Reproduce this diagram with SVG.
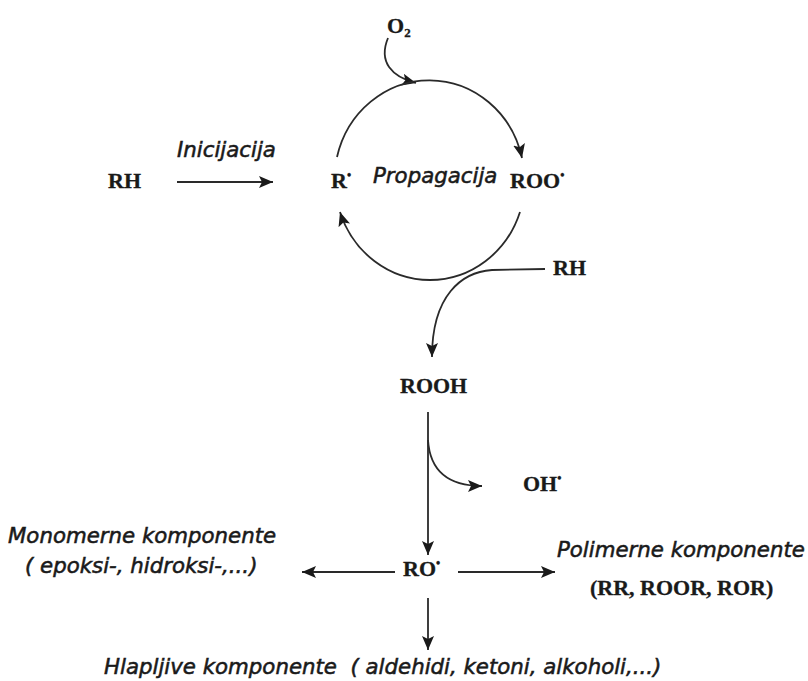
<svg xmlns="http://www.w3.org/2000/svg" width="808" height="681" viewBox="0 0 808 681">
<defs>
<marker id="ah" markerUnits="userSpaceOnUse" markerWidth="16" markerHeight="12" refX="14" refY="6" orient="auto">
<path d="M0,0 L14,6 L0,12 L3,6 z" fill="#1a1a1a"/>
</marker>
<style>
.chem{font-family:"Liberation Serif","Times New Roman",serif;font-weight:bold;font-size:22px;fill:#1a1a1a;stroke:#1a1a1a;stroke-width:0.3}
.lab{font-family:"DejaVu Sans","Verdana",sans-serif;font-style:italic;font-size:21.3px;fill:#1a1a1a;stroke:#1a1a1a;stroke-width:0.55}
.ar{fill:none;stroke:#2a2a2a;stroke-width:1.8;marker-end:url(#ah)}
.rad{font-size:12px}
</style>
</defs>
<rect width="808" height="681" fill="#ffffff"/>
<g id="connectors">
<path class="ar" d="M388 38 C378 62, 392 77, 416 83"/>
<path class="ar" d="M337 157 A95 100 0 0 1 522 158"/>
<path class="ar" d="M520 212 A95 100 0 0 1 340 212"/>
<path class="ar" d="M177 182 L273 182"/>
<path class="ar" d="M545 269 L492 270 C462 272, 432 295, 432 357"/>
<path class="ar" d="M428 412 L428 555"/>
<path class="ar" d="M428 440 C430 472, 450 486, 482 486"/>
<path class="ar" d="M395 572 L302 572"/>
<path class="ar" d="M458 572 L555 572"/>
<path class="ar" d="M428 598 L428 650"/>
</g>
<g id="o2"><text class="chem" x="387" y="33">O<tspan font-size="13" dy="4">2</tspan></text></g>
<g id="rh-start"><text class="chem" x="108" y="188">RH</text></g>
<g id="inicijacija"><text class="lab" x="177" y="157">Inicijacija</text></g>
<g id="r-radical"><text class="chem" x="331" y="188">R<tspan class="rad" dy="-9">•</tspan></text></g>
<g id="propagacija"><text class="lab" x="373" y="183">Propagacija</text></g>
<g id="roo-radical"><text class="chem" x="510" y="188">ROO<tspan class="rad" dy="-9">•</tspan></text></g>
<g id="rh-right"><text class="chem" x="553" y="275">RH</text></g>
<g id="rooh"><text class="chem" x="400" y="393">ROOH</text></g>
<g id="oh-radical"><text class="chem" x="523" y="491">OH<tspan class="rad" dy="-9">•</tspan></text></g>
<g id="ro-radical"><text class="chem" x="403" y="576">RO<tspan class="rad" dy="-9">•</tspan></text></g>
<g id="monomerne">
<text class="lab" x="8" y="543">Monomerne komponente</text>
<text class="lab" x="25" y="573">( epoksi-, hidroksi-,...)</text>
</g>
<g id="polimerne">
<text class="lab" x="557" y="557">Polimerne komponente</text>
<text class="chem" x="590" y="595">(RR, ROOR, ROR)</text>
</g>
<g id="hlapljive"><text class="lab" x="104" y="674" xml:space="preserve">Hlapljive komponente  ( aldehidi, ketoni, alkoholi,...)</text></g>
</svg>
